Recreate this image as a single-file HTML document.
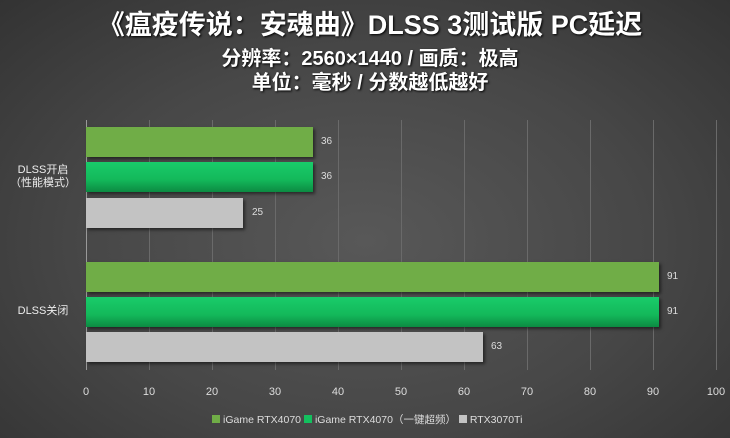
<!DOCTYPE html>
<html><head><meta charset="utf-8"><style>
html,body{margin:0;padding:0}
body{width:730px;height:438px;overflow:hidden;background:radial-gradient(ellipse at 50% 55%,#585858 0%,#474747 55%,#333 100%);font-family:"Liberation Sans","Noto Sans CJK SC",sans-serif;position:relative;color:#fff}
.t{position:absolute;left:0;width:740px;text-align:center;font-weight:bold;text-shadow:1px 1px 2px #000;white-space:nowrap}
.g{position:absolute;top:120px;height:250px;width:1px;background:#6a6a6a}
.tk{position:absolute;top:386px;font-size:11px;color:#ddd;width:30px;margin-left:-15px;text-align:center}
.b{position:absolute;left:86px;height:30px;box-shadow:2px 2px 3px rgba(0,0,0,.5)}
.v{position:absolute;font-size:10px;color:#ddd}
.c{position:absolute;font-size:11px;color:#eee;text-align:center;width:80px;line-height:13px}
.lg{position:absolute;top:412px;font-size:10.5px;color:#ddd;white-space:nowrap}
.lg span{display:inline-block;width:8px;height:8px;margin:0 3px 0 0;vertical-align:-0px}
</style></head><body>
<div class="t" style="top:3px;font-size:27px">《瘟疫传说：安魂曲》DLSS 3测试版 PC延迟</div>
<div class="t" style="top:42px;font-size:20px">分辨率：2560×1440 / 画质：极高</div>
<div class="t" style="top:66px;font-size:20px">单位：毫秒 / 分数越低越好</div>
<div class="g" style="left:149px"></div><div class="g" style="left:212px"></div><div class="g" style="left:275px"></div><div class="g" style="left:338px"></div><div class="g" style="left:401px"></div><div class="g" style="left:464px"></div><div class="g" style="left:527px"></div><div class="g" style="left:590px"></div><div class="g" style="left:653px"></div><div class="g" style="left:716px"></div>
<div class="g" style="left:86px;background:#999"></div>
<div class="tk" style="left:86px">0</div><div class="tk" style="left:149px">10</div><div class="tk" style="left:212px">20</div><div class="tk" style="left:275px">30</div><div class="tk" style="left:338px">40</div><div class="tk" style="left:401px">50</div><div class="tk" style="left:464px">60</div><div class="tk" style="left:527px">70</div><div class="tk" style="left:590px">80</div><div class="tk" style="left:653px">90</div><div class="tk" style="left:716px">100</div>
<div class="b" style="top:127px;width:227px;background:#70ad47"></div>
<div class="b" style="top:162px;width:227px;background:linear-gradient(#19cc6a,#13b85a 60%,#0c8a42)"></div>
<div class="b" style="top:198px;width:157px;background:#c3c3c3"></div>
<div class="b" style="top:262px;width:573px;background:#70ad47"></div>
<div class="b" style="top:297px;width:573px;background:linear-gradient(#19cc6a,#13b85a 60%,#0c8a42)"></div>
<div class="b" style="top:332px;width:397px;background:#c3c3c3"></div>
<div class="v" style="left:321px;top:136px">36</div>
<div class="v" style="left:321px;top:171px">36</div>
<div class="v" style="left:252px;top:207px">25</div>
<div class="v" style="left:667px;top:271px">91</div>
<div class="v" style="left:667px;top:306px">91</div>
<div class="v" style="left:491px;top:341px">63</div>
<div class="c" style="left:3px;top:164px">DLSS开启<br>（性能模式）</div>
<div class="c" style="left:3px;top:305px">DLSS关闭</div>
<div class="lg" style="left:212px"><span style="background:#70ad47"></span>iGame RTX4070 <span style="background:#13c05e"></span>iGame RTX4070（一键超频） <span style="background:#c3c3c3"></span>RTX3070Ti</div>
</body></html>
